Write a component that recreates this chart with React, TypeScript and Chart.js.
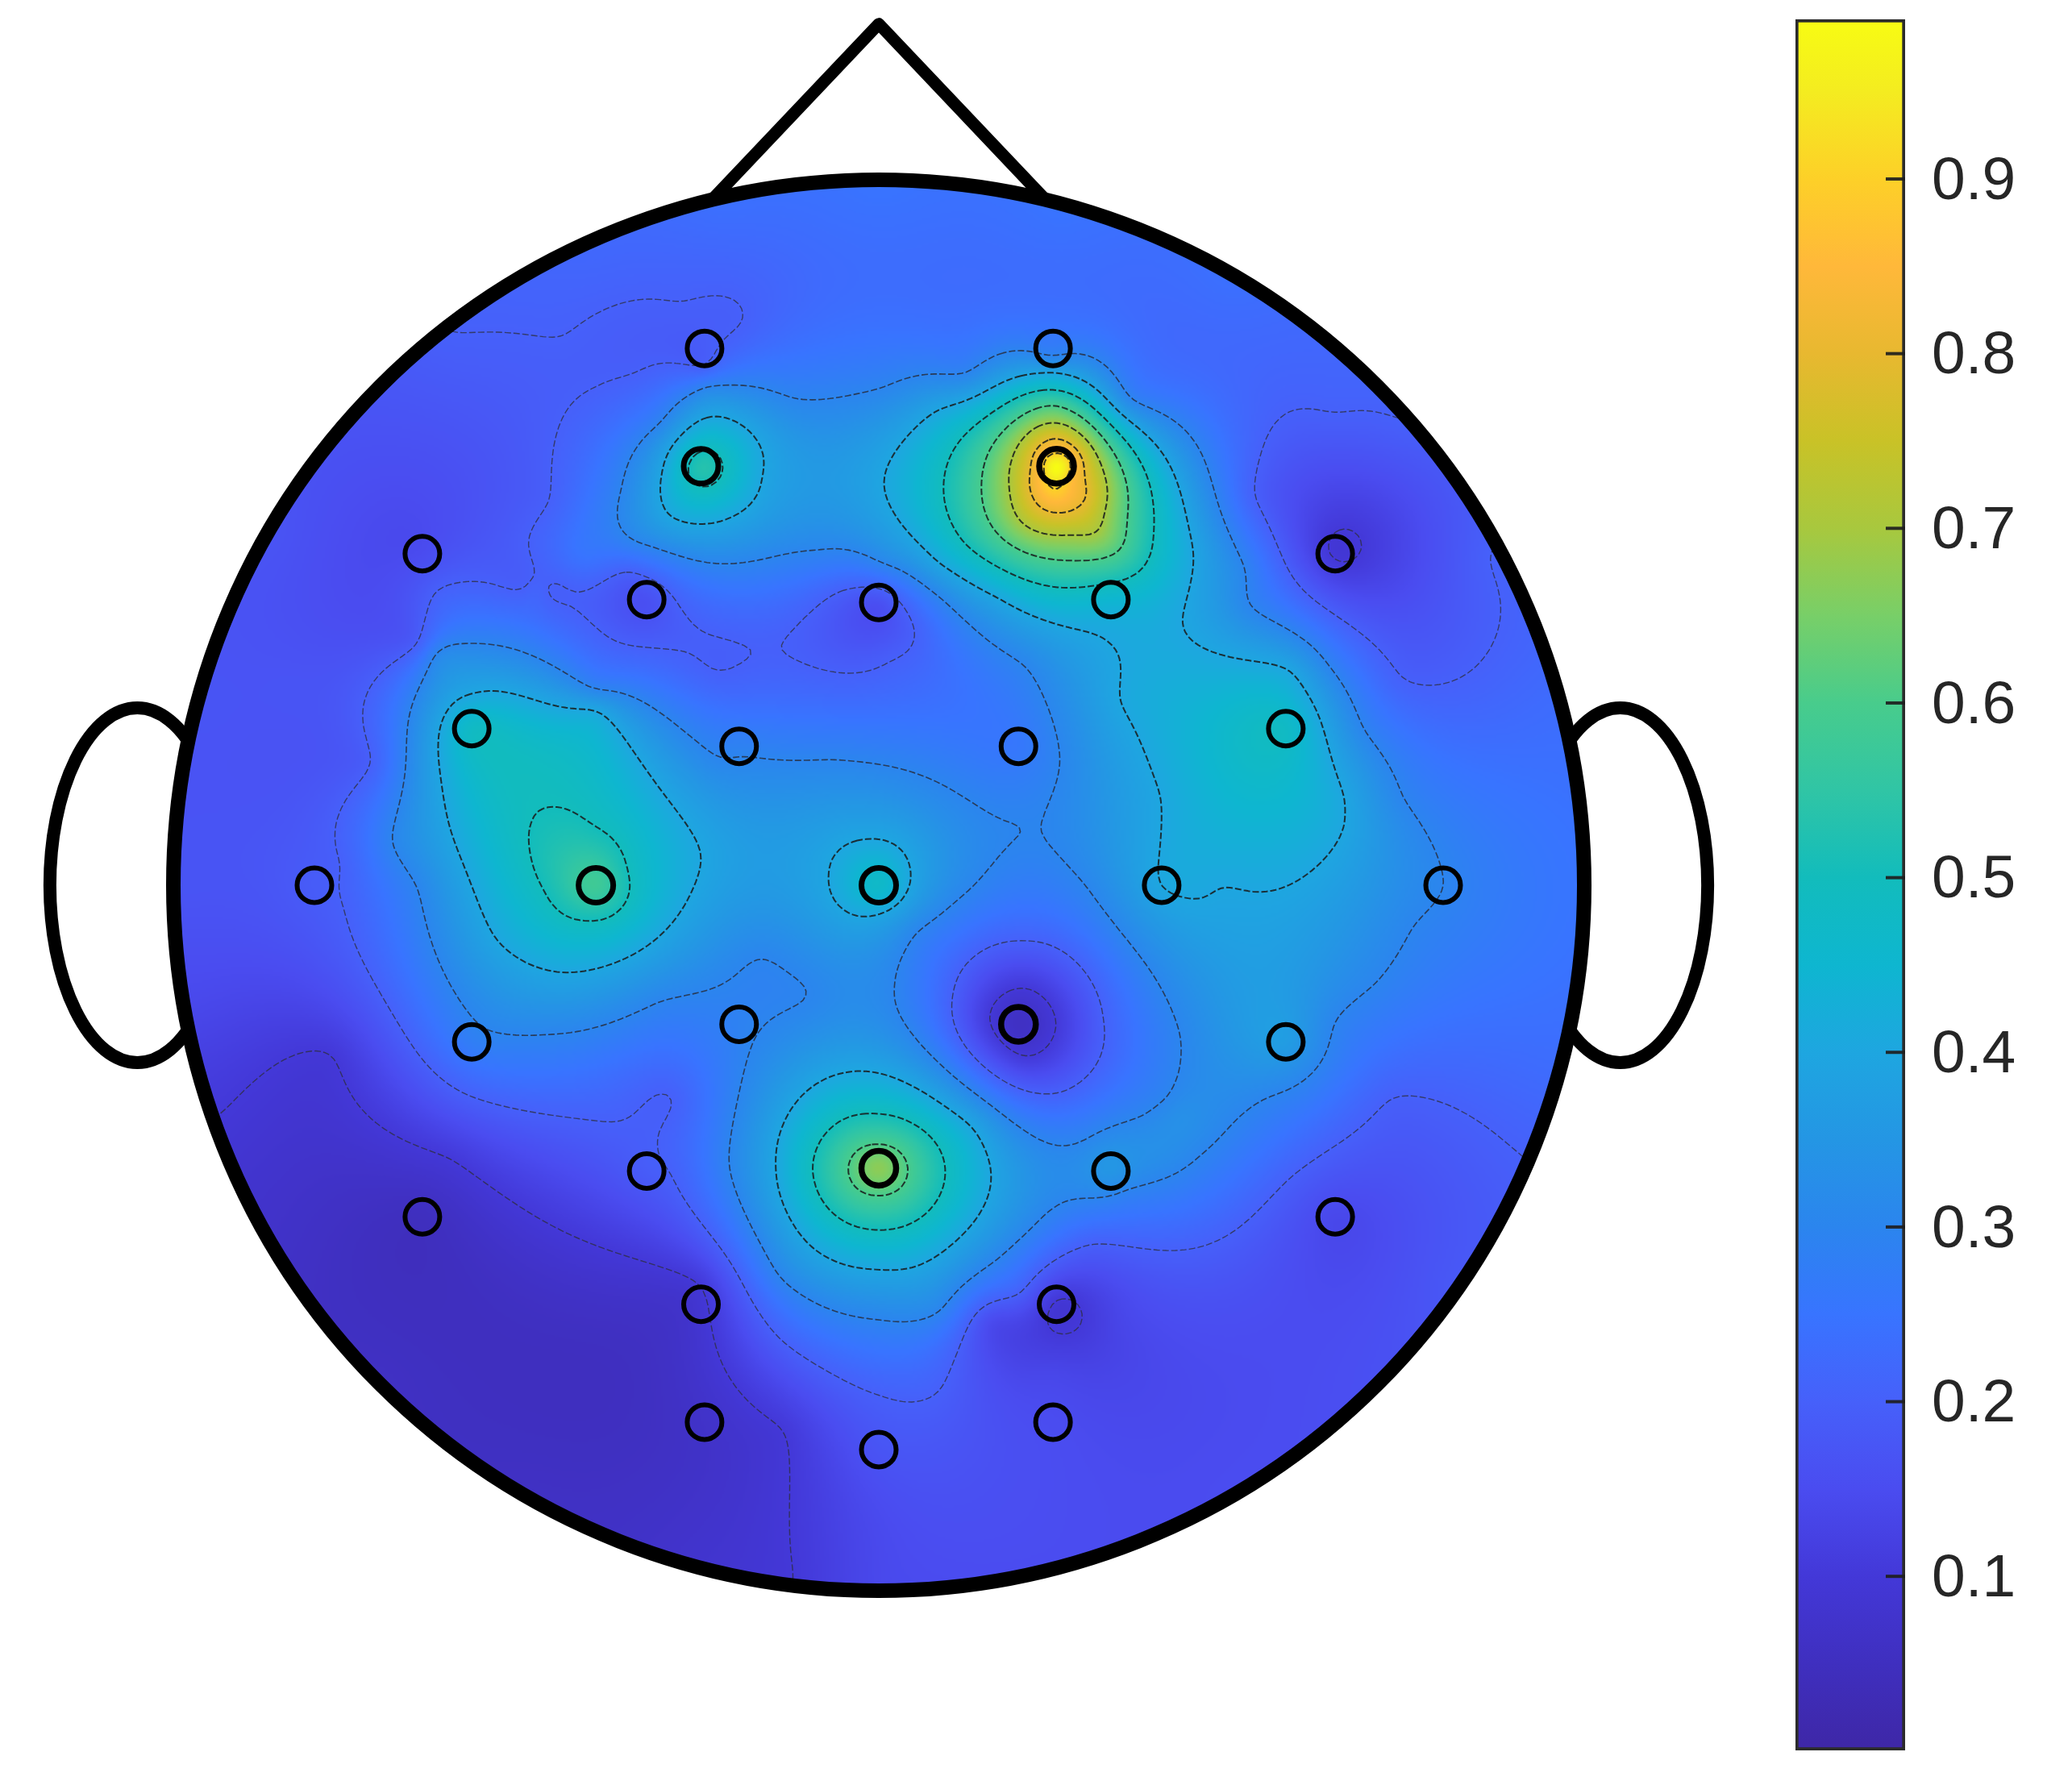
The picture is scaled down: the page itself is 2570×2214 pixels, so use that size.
import React, { useEffect, useRef } from "react";
import { Chart, registerables } from "chart.js";

Chart.register(...registerables);

// Electrode positions (head radius = 1) and the values read at each electrode.
const electrodeX = [-0.247, 0.247, -0.252, 0.252, -0.647, 0.647, -0.329, 0, 0.329, -0.577, -0.198, 0.198, 0.577, -0.8, -0.401, 0, 0.401, 0.8, -0.577, -0.198, 0.198, 0.577, -0.329, 0, 0.329, -0.647, 0.647, -0.252, 0.252, -0.247, 0.247, 0];
const electrodeY = [0.761, 0.761, 0.594, 0.594, 0.47, 0.47, 0.405, 0.401, 0.405, 0.222, 0.197, 0.197, 0.222, 0, 0, 0, 0, 0, -0.222, -0.197, -0.197, -0.222, -0.405, -0.401, -0.405, -0.47, -0.47, -0.594, -0.594, -0.761, -0.761, -0.8];
const electrodeValue = [0.19, 0.28, 0.53, 0.99, 0.15, 0.095, 0.16, 0.16, 0.45, 0.48, 0.29, 0.26, 0.48, 0.19, 0.58, 0.47, 0.4, 0.3, 0.28, 0.29, 0.06, 0.37, 0.19, 0.67, 0.35, 0.05, 0.14, 0.09, 0.095, 0.07, 0.15, 0.17];
const electrodeStroke = [6, 6, 7, 7.5, 6, 6, 6, 6, 6, 6, 6, 6, 6, 6, 7, 7, 6, 6, 6, 6, 7.5, 6, 6, 7.5, 6, 6, 6, 6, 6, 6, 6, 6];

// Values read along the rim of the head (degrees clockwise from the nose).
const rimAngle = [0, 15, 30, 54, 75, 90, 105, 125, 135, 150, 165, 180, 195, 210, 225, 240, 260, 270, 285, 300, 335, 347];
const rimValue = [0.25, 0.25, 0.24, 0.18, 0.23, 0.25, 0.23, 0.18, 0.16, 0.15, 0.15, 0.14, 0.08, 0.06, 0.06, 0.07, 0.14, 0.17, 0.17, 0.17, 0.22, 0.24];

const readAt01 = [[165, 844], [250, 799], [340, 877], [530, 974], [592, 1083], [600, 1195], [749, 771], [775, 748], [799, 773], [775, 799]];
const readAt02 = [[1152, 875], [1053, 832], [976, 892], [826, 942], [771, 979], [711, 1052], [668, 1057], [590, 1013], [507, 888], [507, 831], [465, 849], [350, 827], [260, 688], [257, 655], [280, 577], [315, 487], [330, 448], [397, 444], [400, 409], [415, 379], [450, 293], [480, 282], [532, 276], [560, 245], [515, 228], [425, 254], [340, 250], [415, 448], [475, 433], [515, 460], [567, 491], [542, 507], [490, 490], [450, 474], [592, 487], [635, 448], [692, 478], [675, 500], [1062, 317], [950, 375], [980, 439], [1062, 513], [1128, 422], [1010, 312], [721, 753], [775, 712], [835, 771], [801, 827]];
const readAt03 = [[796, 269], [856, 301], [942, 431], [946, 457], [1006, 504], [1032, 551], [1062, 603], [1092, 663], [1070, 701], [1040, 745], [1010, 775], [959, 831], [908, 875], [852, 901], [779, 931], [711, 992], [665, 999], [590, 966], [552, 883], [610, 753], [575, 726], [500, 758], [415, 783], [360, 773], [315, 671], [297, 637], [330, 495], [352, 487], [450, 521], [545, 573], [630, 575], [770, 625], [788, 625], [802, 577], [775, 504], [711, 452], [668, 426], [620, 416], [480, 409], [470, 370], [500, 319], [535, 293], [600, 301], [668, 293], [730, 282], [822, 671], [893, 784], [882, 831], [865, 844], [818, 864], [711, 805], [677, 745], [694, 706], [736, 671]];
const readAt04 = [[796, 282], [669, 366], [711, 426], [754, 452], [822, 478], [848, 530], [878, 603], [908, 680], [925, 672], [1017, 625], [1017, 603], [976, 508], [895, 469], [903, 418], [711, 310], [357, 525], [332, 577], [375, 710], [427, 736], [525, 671], [530, 646], [450, 538], [657, 635], [627, 663], [689, 659], [665, 692], [532, 317], [577, 360], [552, 392], [507, 390], [501, 357], [645, 811], [587, 883], [665, 961], [750, 892], [735, 853]];
const readAt05 = [[796, 295], [714, 370], [732, 413], [754, 310], [822, 444], [873, 405], [415, 611], [400, 633], [445, 697], [475, 659], [450, 625], [412, 675], [665, 843], [615, 883], [665, 931], [715, 892]];
const readAt06 = [[797, 307], [853, 395], [848, 415], [824, 424], [743, 362], [756, 405], [665, 866], [642, 883], [665, 905], [687, 886]];
const readAt07 = [[798, 320], [836, 388], [830, 402], [811, 405], [773, 395], [764, 372]];
const readAt08 = [[799, 332], [822, 374], [809, 387], [779, 364], [783, 379]];
const readAt09 = [[800, 343], [808, 360], [799, 370], [790, 356]];

// Other colour readings between the iso-lines: x, y (same view) and value.
const readOtherX = [220, 385, 405, 440, 880, 893, 798, 798, 750, 850];
const readOtherY = [520, 470, 447, 420, 870, 844, 1013, 1040, 1000, 1000];
const readOtherV = [0.17, 0.25, 0.21, 0.25, 0.33, 0.33, 0.105, 0.135, 0.15, 0.135];

const contourLevels = [0.1, 0.2, 0.3, 0.4, 0.5, 0.6, 0.7, 0.8, 0.9];
const readLists = [readAt01, readAt02, readAt03, readAt04, readAt05, readAt06, readAt07, readAt08, readAt09];

const noseX = [-0.257, 0, 0.257];
const noseY = [0.95, 1.221, 0.95];

const colorbarTicks = [0.1, 0.2, 0.3, 0.4, 0.5, 0.6, 0.7, 0.8, 0.9];
const colorbarRange = [0.0004, 0.9914];
const colorStopValues = [0, 0.05, 0.1, 0.15, 0.2, 0.25, 0.3, 0.35, 0.4, 0.45, 0.5, 0.55, 0.6, 0.65, 0.7, 0.75, 0.8, 0.85, 0.9, 0.95, 1];
const colorStopColors = ["#3e27a6", "#3f2fbf", "#4338d8", "#4a4cf0", "#4660fa", "#3874ff", "#2b85ee", "#2496e4", "#1ea6e0", "#0eb6d0", "#12bcbc", "#30c5a5", "#48cc8c", "#78cf68", "#a8c83e", "#c9c227", "#e8b830", "#ffb83a", "#fdd028", "#f4ec20", "#f8ff10"];

const rgbStops = colorStopColors.map((h) => [parseInt(h.slice(1, 3), 16), parseInt(h.slice(3, 5), 16), parseInt(h.slice(5, 7), 16)]);

function colourAt(v: number): number[] {
  const t = Math.max(0, Math.min(1, v)) / 0.05;
  const i = Math.min(rgbStops.length - 2, Math.floor(t));
  const f = t - i;
  const a = rgbStops[i];
  const b = rgbStops[i + 1];
  return [a[0] + (b[0] - a[0]) * f, a[1] + (b[1] - a[1]) * f, a[2] + (b[2] - a[2]) * f];
}

// All known samples of the surface: electrodes, rim readings, iso-line readings.
const sampleX: number[] = [...electrodeX, ...rimAngle.map((a) => Math.sin((a * Math.PI) / 180))];
const sampleY: number[] = [...electrodeY, ...rimAngle.map((a) => Math.cos((a * Math.PI) / 180))];
const sampleV: number[] = [...electrodeValue, ...rimValue];
const addReading = (tx: number, ty: number, v: number) => {
  sampleX.push((tx - 665) / 534);
  sampleY.push((670 - ty) / 534);
  sampleV.push(v);
};
readLists.forEach((list, l) => list.forEach(([tx, ty]) => addReading(tx, ty, contourLevels[l])));
readOtherX.forEach((tx, i) => addReading(tx, readOtherY[i], readOtherV[i]));

function kernel(dx: number, dy: number): number {
  return Math.sqrt(dx * dx + dy * dy + 0.0004);
}

function solveWeights(): number[] {
  const n = sampleX.length;
  const m: Float64Array[] = [];
  for (let i = 0; i < n; i++) {
    const row = new Float64Array(n + 2);
    for (let j = 0; j < n; j++) row[j] = kernel(sampleX[i] - sampleX[j], sampleY[i] - sampleY[j]);
    row[n] = 1;
    row[n + 1] = sampleV[i];
    m.push(row);
  }
  const last = new Float64Array(n + 2);
  for (let j = 0; j < n; j++) last[j] = 1;
  m.push(last);
  const N = n + 1;
  for (let c = 0; c < N; c++) {
    let p = c;
    for (let r = c + 1; r < N; r++) if (Math.abs(m[r][c]) > Math.abs(m[p][c])) p = r;
    const tmp = m[c];
    m[c] = m[p];
    m[p] = tmp;
    for (let r = c + 1; r < N; r++) {
      const f = m[r][c] / m[c][c];
      for (let k = c; k <= N; k++) m[r][k] -= f * m[c][k];
    }
  }
  const w = new Array(N).fill(0);
  for (let r = N - 1; r >= 0; r--) {
    let s = m[r][N];
    for (let k = r + 1; k < N; k++) s -= m[r][k] * w[k];
    w[r] = s / m[r][r];
  }
  return w;
}

const EXTENT = 1.03;

function buildSurface(size: number) {
  const w = solveWeights();
  const grid = new Float32Array(size * size);
  const n = sampleX.length;
  for (let j = 0; j < size; j++) {
    const y = EXTENT - (2 * EXTENT * j) / (size - 1);
    for (let i = 0; i < size; i++) {
      const x = -EXTENT + (2 * EXTENT * i) / (size - 1);
      let s = w[n];
      for (let k = 0; k < n; k++) s += w[k] * kernel(x - sampleX[k], y - sampleY[k]);
      grid[j * size + i] = s;
    }
  }
  return grid;
}

function traceContours(grid: Float32Array, size: number, stride: number, level: number) {
  const cols = Math.floor((size - 1) / stride) + 1;
  const val = (i: number, j: number) => grid[j * stride * size + i * stride];
  const px = (i: number) => -EXTENT + (2 * EXTENT * i * stride) / (size - 1);
  const py = (j: number) => EXTENT - (2 * EXTENT * j * stride) / (size - 1);
  const hEdge = (i: number, j: number) => 2 * (j * cols + i);
  const vEdge = (i: number, j: number) => 2 * (j * cols + i) + 1;
  const links = new Map<number, number[]>();
  const add = (a: number, b: number) => {
    if (!links.has(a)) links.set(a, []);
    if (!links.has(b)) links.set(b, []);
    links.get(a)!.push(b);
    links.get(b)!.push(a);
  };
  for (let j = 0; j < cols - 1; j++) {
    for (let i = 0; i < cols - 1; i++) {
      const cx = px(i + 0.5);
      const cy = py(j + 0.5);
      if (cx * cx + cy * cy > 1) continue;
      const a = val(i, j) >= level;
      const b = val(i + 1, j) >= level;
      const c = val(i + 1, j + 1) >= level;
      const d = val(i, j + 1) >= level;
      const e: number[] = [];
      if (a !== b) e.push(hEdge(i, j));
      if (b !== c) e.push(vEdge(i + 1, j));
      if (c !== d) e.push(hEdge(i, j + 1));
      if (d !== a) e.push(vEdge(i, j));
      if (e.length === 2) add(e[0], e[1]);
      else if (e.length === 4) {
        const centre = (val(i, j) + val(i + 1, j) + val(i + 1, j + 1) + val(i, j + 1)) / 4 >= level;
        if (centre === a) {
          add(e[0], e[1]);
          add(e[2], e[3]);
        } else {
          add(e[0], e[3]);
          add(e[1], e[2]);
        }
      }
    }
  }
  const point = (id: number) => {
    const horizontal = id % 2 === 0;
    const idx = Math.floor(id / 2);
    const j = Math.floor(idx / cols);
    const i = idx % cols;
    const v0 = val(i, j);
    const v1 = horizontal ? val(i + 1, j) : val(i, j + 1);
    const t = (level - v0) / (v1 - v0);
    return horizontal ? { x: px(i + t), y: py(j) } : { x: px(i), y: py(j + t) };
  };
  const seen = new Set<number>();
  const lines: { x: number; y: number }[][] = [];
  const walk = (start: number) => {
    const path = [start];
    seen.add(start);
    let cur = start;
    for (;;) {
      const next = (links.get(cur) || []).find((k) => !seen.has(k));
      if (next === undefined) break;
      seen.add(next);
      path.push(next);
      cur = next;
    }
    const first = links.get(start) || [];
    const closes = path.length > 2 && first.includes(cur);
    const pts = path.map(point);
    if (closes) pts.push(pts[0]);
    return pts;
  };
  links.forEach((v, k) => {
    if (v.length === 1 && !seen.has(k)) lines.push(walk(k));
  });
  links.forEach((_v, k) => {
    if (!seen.has(k)) lines.push(walk(k));
  });
  return lines.filter((l) => l.length > 3);
}

const GRID = 640;

function contourStyle(level: number) {
  if (level <= 0.2) return { width: 1.4, color: "rgba(45,45,55,0.75)" };
  if (level <= 0.3) return { width: 1.6, color: "rgba(40,40,50,0.8)" };
  return { width: 2, color: "rgba(25,30,30,0.88)" };
}

export default function App() {
  const headRef = useRef<HTMLCanvasElement>(null);
  const barRef = useRef<HTMLCanvasElement>(null);

  useEffect(() => {
    const grid = buildSurface(GRID);
    const img = document.createElement("canvas");
    img.width = GRID;
    img.height = GRID;
    const ictx = img.getContext("2d")!;
    const data = ictx.createImageData(GRID, GRID);
    for (let k = 0; k < GRID * GRID; k++) {
      const c = colourAt(grid[k]);
      data.data[k * 4] = c[0];
      data.data[k * 4 + 1] = c[1];
      data.data[k * 4 + 2] = c[2];
      data.data[k * 4 + 3] = 255;
    }
    ictx.putImageData(data, 0, 0);

    const contourSets: any[] = [];
    contourLevels.forEach((level) => {
      const st = contourStyle(level);
      traceContours(grid, GRID, 2, level).forEach((line) => {
        contourSets.push({
          label: "contour " + level,
          data: line,
          showLine: true,
          pointRadius: 0,
          borderColor: st.color,
          borderWidth: st.width,
          borderDash: [8, 3],
          tension: 0,
          clip: false,
        });
      });
    });

    const headPlugin = {
      id: "head",
      beforeDatasetsDraw(chart: any) {
        const { ctx, scales } = chart;
        const X = (v: number) => scales.x.getPixelForValue(v);
        const Y = (v: number) => scales.y.getPixelForValue(v);
        const unit = X(1) - X(0);
        ctx.save();
        ctx.strokeStyle = "#000";
        ctx.lineWidth = 16;
        [-1.051, 1.051].forEach((cx) => {
          ctx.beginPath();
          ctx.ellipse(X(cx), Y(0), 0.124 * unit, 0.2514 * unit, 0, 0, Math.PI * 2);
          ctx.stroke();
        });
        ctx.lineWidth = 15;
        ctx.lineJoin = "round";
        ctx.beginPath();
        noseX.forEach((nx, i) => (i ? ctx.lineTo(X(nx), Y(noseY[i])) : ctx.moveTo(X(nx), Y(noseY[i]))));
        ctx.stroke();
        ctx.beginPath();
        ctx.arc(X(0), Y(0), unit, 0, Math.PI * 2);
        ctx.fillStyle = "#4660fa";
        ctx.fill();
        ctx.clip();
        ctx.imageSmoothingEnabled = true;
        ctx.imageSmoothingQuality = "high";
        ctx.drawImage(img, X(-EXTENT), Y(EXTENT), X(EXTENT) - X(-EXTENT), Y(-EXTENT) - Y(EXTENT));
        ctx.restore();
      },
      afterDatasetsDraw(chart: any) {
        const { ctx, scales } = chart;
        const X = (v: number) => scales.x.getPixelForValue(v);
        const Y = (v: number) => scales.y.getPixelForValue(v);
        ctx.save();
        ctx.strokeStyle = "#000";
        ctx.lineWidth = 18;
        ctx.beginPath();
        ctx.arc(X(0), Y(0), X(1) - X(0), 0, Math.PI * 2);
        ctx.stroke();
        ctx.restore();
      },
    };

    const head = new Chart(headRef.current!, {
      type: "scatter",
      data: {
        datasets: [
          {
            label: "electrodes",
            data: electrodeX.map((x, i) => ({ x, y: electrodeY[i] })),
            pointRadius: 21.5,
            pointBackgroundColor: "rgba(0,0,0,0)",
            pointBorderColor: "#000",
            pointBorderWidth: electrodeStroke,
            clip: false,
          },
          ...contourSets,
        ],
      },
      options: {
        animation: false,
        responsive: false,
        devicePixelRatio: 1,
        layout: { padding: 0, autoPadding: false },
        plugins: { legend: { display: false }, tooltip: { enabled: false } },
        events: [],
        scales: {
          x: { type: "linear", display: false, bounds: "data", min: -1090 / 875, max: (2570 - 1090) / 875 },
          y: { type: "linear", display: false, bounds: "data", min: -(2214 - 1098) / 875, max: 1098 / 875 },
        },
      },
      plugins: [headPlugin],
    } as any);

    const tickPlugin = {
      id: "inwardTicks",
      afterDatasetsDraw(chart: any) {
        const { ctx, chartArea, scales } = chart;
        ctx.save();
        ctx.lineWidth = 4;
        ctx.strokeStyle = "rgba(30,30,30,0.92)";
        colorbarTicks.forEach((t) => {
          const y = scales.y.getPixelForValue(t);
          ctx.beginPath();
          ctx.moveTo(chartArea.right, y);
          ctx.lineTo(chartArea.right - 24, y);
          ctx.stroke();
        });
        ctx.restore();
      },
    };

    const bar = new Chart(barRef.current!, {
      type: "bar",
      data: {
        labels: ["colorbar"],
        datasets: [
          {
            label: "colorbar",
            data: [colorbarRange],
            barPercentage: 1,
            categoryPercentage: 1,
            borderColor: "#2b2b2b",
            borderWidth: 4,
            borderSkipped: false,
            backgroundColor: (c: any) => {
              const { ctx, scales } = c.chart;
              const y0 = scales.y ? scales.y.getPixelForValue(0) : NaN;
              const y1 = scales.y ? scales.y.getPixelForValue(1) : NaN;
              if (!Number.isFinite(y0) || !Number.isFinite(y1)) return "#4660fa";
              const g = ctx.createLinearGradient(0, y0, 0, y1);
              colorStopValues.forEach((v, i) => g.addColorStop(v, colorStopColors[i]));
              return g;
            },
          },
        ],
      },
      options: {
        animation: false,
        responsive: false,
        devicePixelRatio: 1,
        layout: { padding: { left: 27, right: 0, top: 0, bottom: 0 }, autoPadding: false },
        plugins: { legend: { display: false }, tooltip: { enabled: false } },
        events: [],
        scales: {
          x: { display: false, offset: true },
          y: {
            position: "right",
            bounds: "data",
            min: 0.9 - (2214 - 222) / 2166.5,
            max: 0.9 + 222 / 2166.5,
            grid: { display: false, drawTicks: false },
            border: { display: false },
            afterBuildTicks: (axis: any) => {
              axis.ticks = colorbarTicks.map((value) => ({ value }));
            },
            afterFit: (axis: any) => {
              axis.width = 207;
              axis.paddingTop = 0;
              axis.paddingBottom = 0;
            },
            ticks: {
              padding: 33,
              labelOffset: 4,
              color: "#262626",
              font: { family: "'Liberation Sans', Arial, sans-serif", size: 75 },
              callback: (v: any) => Number(v).toFixed(1),
            },
          },
        },
      },
      plugins: [tickPlugin],
    } as any);

    return () => {
      head.destroy();
      bar.destroy();
    };
  }, []);

  return (
    <div style={{ position: "absolute", left: 0, top: 0, width: 2570, height: 2214, overflow: "hidden", background: "#fff" }}>
      <canvas ref={headRef} width={2570} height={2214} style={{ position: "absolute", left: 0, top: 0, display: "block" }} />
      <canvas ref={barRef} width={370} height={2214} style={{ position: "absolute", left: 2200, top: 0, display: "block" }} />
    </div>
  );
}
